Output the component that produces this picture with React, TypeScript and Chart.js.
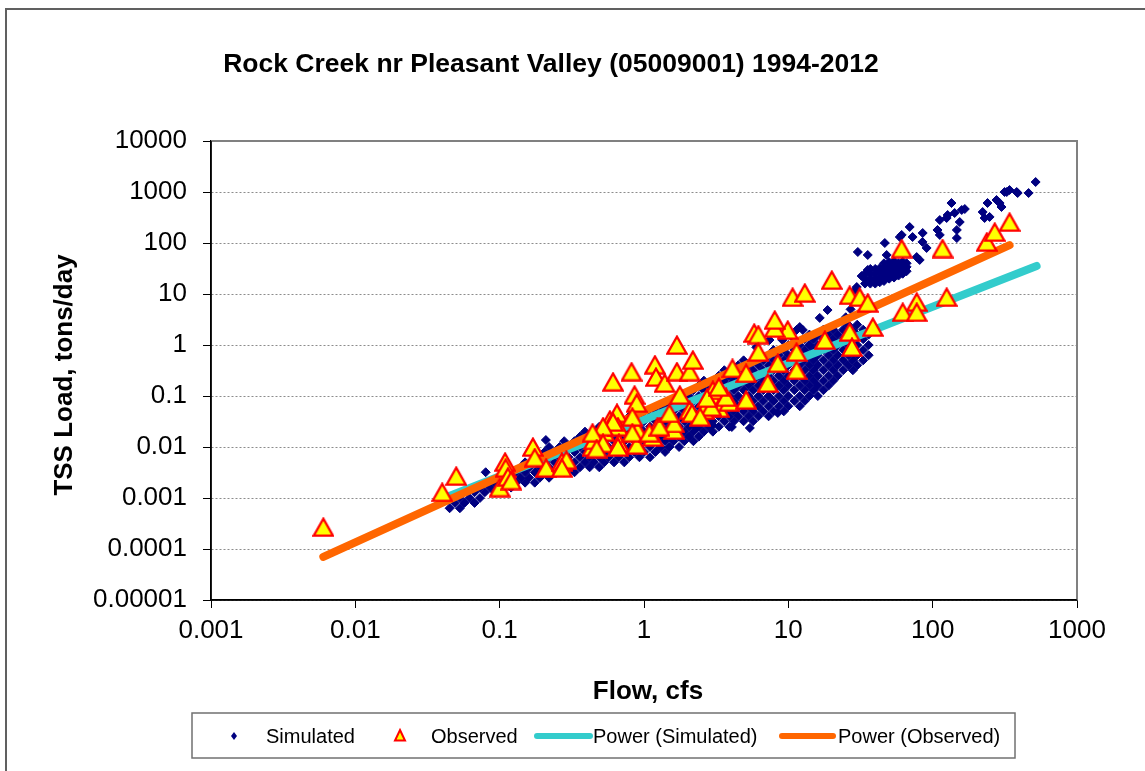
import React, { useEffect, useRef } from "react";
import { Chart, registerables } from "chart.js";

Chart.register(...registerables);

const titleText = "Rock Creek nr Pleasant Valley (05009001) 1994-2012";
const xAxisTitle = "Flow, cfs";
const yAxisTitle = "TSS Load, tons/day";

const xTickValues = [0.001, 0.01, 0.1, 1, 10, 100, 1000];
const xTickLabels = ["0.001", "0.01", "0.1", "1", "10", "100", "1000"];
const yTickValues = [0.00001, 0.0001, 0.001, 0.01, 0.1, 1, 10, 100, 1000, 10000];
const yTickLabels = ["0.00001", "0.0001", "0.001", "0.01", "0.1", "1", "10", "100", "1000", "10000"];

// Simulated daily loads, main band: [load, flows observed at about that load]
const simulatedBand: [number, number[]][] = [
  [0.00063, [0.045, 0.053]],
  [0.0008, [0.049, 0.057, 0.067]],
  [0.001, [0.053, 0.062, 0.073]],
  [0.0013, [0.067, 0.079, 0.093]],
  [0.0016, [0.073, 0.086, 0.1, 0.12]],
  [0.002, [0.093, 0.11, 0.13, 0.15, 0.175]],
  [0.0025, [0.12, 0.14, 0.16, 0.19, 0.22]],
  [0.0032, [0.13, 0.15, 0.175, 0.205, 0.24, 0.28, 0.33]],
  [0.004, [0.14, 0.16, 0.19, 0.22, 0.26, 0.3, 0.36, 0.42, 0.49]],
  [0.005, [0.15, 0.175, 0.205, 0.24, 0.28, 0.33, 0.39, 0.45, 0.53, 0.62, 0.73]],
  [0.0063, [0.19, 0.22, 0.26, 0.3, 0.36, 0.42, 0.49, 0.57, 0.67, 0.79, 0.93, 1.1]],
  [0.008, [0.205, 0.24, 0.28, 0.33, 0.39, 0.45, 0.53, 0.62, 0.73, 0.86, 1.0, 1.2, 1.4]],
  [0.01, [0.22, 0.26, 0.3, 0.36, 0.42, 0.49, 0.57, 0.67, 0.79, 0.93, 1.1, 1.3, 1.5, 1.75]],
  [0.013, [0.28, 0.33, 0.39, 0.45, 0.53, 0.62, 0.73, 0.86, 1.0, 1.2, 1.4, 1.6, 1.9, 2.2]],
  [0.016, [0.36, 0.42, 0.49, 0.57, 0.67, 0.79, 0.93, 1.1, 1.3, 1.5, 1.75, 2.05, 2.4]],
  [0.02, [0.39, 0.45, 0.53, 0.62, 0.73, 0.86, 1.0, 1.2, 1.4, 1.6, 1.9, 2.2, 2.6, 3.0]],
  [0.025, [0.49, 0.57, 0.67, 0.79, 0.93, 1.1, 1.3, 1.5, 1.75, 2.05, 2.4, 2.8, 3.3, 3.9]],
  [0.032, [0.62, 0.73, 0.86, 1.0, 1.2, 1.4, 1.6, 1.9, 2.2, 2.6, 3.0, 3.6, 4.2, 4.9, 5.7]],
  [0.04, [0.79, 0.93, 1.1, 1.3, 1.5, 1.75, 2.05, 2.4, 2.8, 3.3, 3.9, 4.5, 5.3, 6.2, 7.3]],
  [0.05, [1.0, 1.2, 1.4, 1.6, 1.9, 2.2, 2.6, 3.0, 3.6, 4.2, 4.9, 5.7, 6.7, 7.9, 9.3]],
  [0.063, [1.3, 1.5, 1.75, 2.05, 2.4, 2.8, 3.3, 3.9, 4.5, 5.3, 6.2, 7.3, 8.6, 10, 12]],
  [0.08, [1.6, 1.9, 2.2, 2.6, 3.0, 3.6, 4.2, 4.9, 5.7, 6.7, 7.9, 9.3, 11, 13]],
  [0.1, [2.05, 2.4, 2.8, 3.3, 3.9, 4.5, 5.3, 6.2, 7.3, 8.6, 10, 12, 14, 16]],
  [0.13, [2.2, 2.6, 3.0, 3.6, 4.2, 4.9, 5.7, 6.7, 7.9, 9.3, 11, 13, 15, 17.5]],
  [0.16, [2.4, 2.8, 3.3, 3.9, 4.5, 5.3, 6.2, 7.3, 8.6, 10, 12, 14, 16, 19]],
  [0.2, [2.6, 3.0, 3.6, 4.2, 4.9, 5.7, 6.7, 7.9, 9.3, 11, 13, 15, 17.5, 20.5]],
  [0.25, [3.3, 3.9, 4.5, 5.3, 6.2, 7.3, 8.6, 10, 12, 14, 16, 19, 22]],
  [0.32, [3.6, 4.2, 4.9, 5.7, 6.7, 7.9, 9.3, 11, 13, 15, 17.5, 20.5, 24, 28]],
  [0.4, [4.5, 5.3, 6.2, 7.3, 8.6, 10, 12, 14, 16, 19, 22, 26, 30]],
  [0.5, [4.9, 5.7, 6.7, 7.9, 9.3, 11, 13, 15, 17.5, 20.5, 24, 28, 33]],
  [0.63, [6.2, 7.3, 8.6, 10, 12, 14, 16, 19, 22, 26, 30, 36]],
  [0.8, [7.9, 9.3, 11, 13, 15, 17.5, 20.5, 24, 28, 33]],
  [1.0, [10, 12, 14, 16, 19, 22, 26, 30, 36]],
  [1.3, [11, 13, 15, 17.5, 20.5, 24, 28, 33]],
  [1.6, [14, 16, 19, 22, 26, 30, 36]],
  [2.0, [17.5, 20.5, 24, 28, 33]],
  [2.5, [26, 30]],
];

// Simulated high-flow cluster: [flow, loads at that flow]
const simulatedCluster: [number, number[]][] = [
  [34, [16, 20, 25]],
  [37, [16, 20, 25, 31]],
  [40, [16, 20, 25, 31]],
  [43, [17, 21, 26, 32]],
  [46, [18, 22, 27, 33, 40]],
  [50, [20, 24, 29, 35, 42]],
  [54, [21, 26, 31, 37, 44]],
  [58, [23, 28, 33, 40]],
  [62, [25, 30, 36, 43]],
  [66, [28, 34, 40]],
];

// Simulated scattered points
const simulatedScatterFlow = [
  32.2, 35.5, 30.3, 35.5, 46.6, 48, 59.2, 69.3, 72.6, 85.3, 90.8, 81.3, 108, 112, 125, 127, 135, 142, 147, 154,
  159, 167, 147, 222, 229, 240, 277, 291, 300, 315, 341, 382, 388, 462, 517, 61, 85, 77.5, 112, 248, 326,
  0.08, 0.209, 2.32, 2.99, 4.06, 5.41, 8.45, 18.7, 16.5, 12.6, 11.4, 9.1, 12, 7.4, 6.0, 29.8, 29, 31, 33, 27, 25,
];
const simulatedScatterLoad = [
  22.5, 29.6, 66.7, 58.2, 100, 58.2, 131, 206, 131, 157, 79.8, 46.5, 180, 282, 309, 354, 608, 387, 180, 258,
  444, 464, 125, 405, 309, 608, 697, 608, 508, 1000, 1094, 1000, 955, 955, 1570, 144, 105, 53, 144, 324, 1000,
  0.0032, 0.0137, 0.0236, 0.027, 0.0247, 0.0236, 0.0465, 4.85, 3.4, 1.97, 1.97, 1.25, 2.25, 1.25, 0.9, 13.7, 12, 9, 7, 5, 3.5,
];

// Observed samples
const observedFlow = [
  0.006, 0.04, 0.05, 0.1, 0.109, 0.11, 0.114, 0.12, 0.17, 0.175, 0.21, 0.27, 0.29, 0.27, 0.44, 0.45, 0.53,
  0.61, 0.58, 0.65, 0.66, 0.67, 0.82, 0.86, 0.89, 0.9, 0.89, 0.83, 1.15, 1.19, 1.21, 1.39, 1.69, 1.69, 2.07,
  2.18, 1.24, 1.62, 1.62, 2.07, 3.0, 3.3, 3.9, 4.1, 3.0, 2.6, 0.61, 0.52, 0.44, 0.52, 0.47, 0.66, 0.83, 1.09,
  1.28, 1.5, 2.15, 1.77, 2.93, 2.73, 3.7, 3.3, 5.1, 5.8, 5.1, 2.45, 10.7, 13, 20, 26.6, 31.2, 35.5, 38.5, 26.6,
  27.6, 17.9, 11.4, 9.9, 8.05, 8.05, 6.2, 6.2, 8.45, 7.2, 11.4, 61, 117, 237, 269, 341, 62, 77.5, 77.5, 125,
];
const observedLoad = [
  0.00027, 0.0013, 0.0027, 0.0016, 0.0051, 0.0039, 0.0026, 0.0022, 0.01, 0.0062, 0.0039, 0.0051, 0.0056, 0.0039, 0.01, 0.0136, 0.0197,
  0.19, 0.034, 0.046, 0.025, 0.012, 0.3, 0.105, 0.073, 0.0215, 0.011, 0.039, 0.0157, 0.41, 0.236, 0.18, 1.0, 0.3, 0.3,
  0.51, 0.025, 0.0215, 0.029, 0.053, 0.091, 0.058, 0.076, 0.35, 0.13, 0.053, 0.031, 0.025, 0.019, 0.0118, 0.0093, 0.01, 0.019, 0.019,
  0.025, 0.046, 0.046, 0.105, 0.061, 0.091, 0.095, 0.15, 0.084, 1.72, 0.28, 0.039, 8.7, 10.5, 18.8, 9.5, 8.7, 6.7, 2.25, 1.8,
  0.91, 1.25, 0.73, 1.97, 2.15, 3.1, 1.6, 0.73, 0.44, 0.18, 0.32, 78, 78, 105, 164, 258, 4.4, 7.0, 4.4, 8.7,
];

// Power trend lines (end points)
const powerSimulatedFlow = [0.043, 525];
const powerSimulatedLoad = [0.00105, 35.5];
const powerObservedFlow = [0.006, 341];
const powerObservedLoad = [0.00007, 91];

const FONT = "'Liberation Sans', Arial, Helvetica, sans-serif";

function makeTriangleMarker(fill: string, stroke: string): HTMLCanvasElement {
  const c = document.createElement("canvas");
  c.width = 22;
  c.height = 20;
  const g = c.getContext("2d")!;
  g.lineJoin = "miter";
  g.fillStyle = fill;
  g.strokeStyle = stroke;
  g.lineWidth = 2.2;
  g.beginPath();
  g.moveTo(11, 1.6);
  g.lineTo(20.6, 18.6);
  g.lineTo(1.4, 18.6);
  g.closePath();
  g.fill();
  g.stroke();
  return c;
}

const decorPlugin = {
  id: "decor",
  beforeDatasetsDraw(chart: any) {
    const { ctx, chartArea: a } = chart;
    ctx.save();
    ctx.strokeStyle = "#808080";
    ctx.lineWidth = 2;
    ctx.beginPath();
    ctx.moveTo(a.left, a.top);
    ctx.lineTo(a.right, a.top);
    ctx.lineTo(a.right, a.bottom);
    ctx.stroke();
    ctx.strokeStyle = "#000000";
    ctx.lineWidth = 1.5;
    ctx.beginPath();
    ctx.moveTo(a.left, a.top);
    ctx.lineTo(a.left, a.bottom);
    ctx.lineTo(a.right, a.bottom);
    ctx.stroke();
    ctx.restore();
  },
  afterDraw(chart: any) {
    const { ctx } = chart;
    const ds = chart.data.datasets;
    ctx.save();
    // outer frame
    ctx.strokeStyle = "#606060";
    ctx.lineWidth = 2;
    ctx.beginPath();
    ctx.moveTo(6, 771);
    ctx.lineTo(6, 9);
    ctx.lineTo(1145, 9);
    ctx.stroke();

    ctx.fillStyle = "#000";
    ctx.textBaseline = "alphabetic";
    ctx.textAlign = "center";
    ctx.font = `bold 26.5px ${FONT}`;
    ctx.fillText(titleText, 551, 72);
    ctx.font = `bold 26px ${FONT}`;
    ctx.fillText(xAxisTitle, 648, 699);
    ctx.save();
    ctx.translate(72, 375);
    ctx.rotate(-Math.PI / 2);
    ctx.fillText(yAxisTitle, 0, 0);
    ctx.restore();

    // legend
    ctx.strokeStyle = "#707070";
    ctx.lineWidth = 1.5;
    ctx.strokeRect(192, 713, 823, 45);
    const cy = 736;
    ctx.font = `20px ${FONT}`;
    ctx.textAlign = "left";
    // diamond
    ctx.fillStyle = ds[0].pointBackgroundColor;
    ctx.beginPath();
    ctx.moveTo(234, cy - 4);
    ctx.lineTo(237, cy);
    ctx.lineTo(234, cy + 4);
    ctx.lineTo(231, cy);
    ctx.closePath();
    ctx.fill();
    ctx.fillStyle = "#000";
    ctx.fillText(ds[0].label, 266, 743);
    // triangle
    ctx.fillStyle = "#FFFF00";
    ctx.strokeStyle = "#FF0000";
    ctx.lineWidth = 2;
    ctx.beginPath();
    ctx.moveTo(400, cy - 6);
    ctx.lineTo(405, cy + 4.5);
    ctx.lineTo(395, cy + 4.5);
    ctx.closePath();
    ctx.fill();
    ctx.stroke();
    ctx.fillStyle = "#000";
    ctx.fillText(ds[1].label, 431, 743);
    // lines
    ctx.lineCap = "round";
    ctx.lineWidth = 6;
    ctx.strokeStyle = ds[2].borderColor;
    ctx.beginPath();
    ctx.moveTo(537, cy);
    ctx.lineTo(590, cy);
    ctx.stroke();
    ctx.fillText(ds[2].label, 593, 743);
    ctx.strokeStyle = ds[3].borderColor;
    ctx.beginPath();
    ctx.moveTo(782, cy);
    ctx.lineTo(833, cy);
    ctx.stroke();
    ctx.fillText(ds[3].label, 838, 743);
    ctx.restore();
  },
};

export default function App() {
  const canvasRef = useRef<HTMLCanvasElement | null>(null);

  useEffect(() => {
    const canvas = canvasRef.current;
    if (!canvas) return;

    const simPoints = simulatedBand
      .flatMap(([load, flows]) => flows.map((f) => ({ x: f, y: load })))
      .concat(simulatedCluster.flatMap(([flow, loads]) => loads.map((l) => ({ x: flow, y: l }))))
      .concat(simulatedScatterFlow.map((f, i) => ({ x: f, y: simulatedScatterLoad[i] })));
    const obsPoints = observedFlow.map((f, i) => ({ x: f, y: observedLoad[i] }));
    const powSim = powerSimulatedFlow.map((f, i) => ({ x: f, y: powerSimulatedLoad[i] }));
    const powObs = powerObservedFlow.map((f, i) => ({ x: f, y: powerObservedLoad[i] }));

    const triMarker = makeTriangleMarker("#FFFF00", "#FF0000");

    const chart = new Chart(canvas, {
      type: "scatter",
      data: {
        datasets: [
          {
            label: "Simulated",
            data: simPoints,
            pointStyle: "rectRot",
            pointRadius: 4.5,
            pointBorderWidth: 1,
            pointBackgroundColor: "#000080",
            pointBorderColor: "#000080",
            backgroundColor: "#000080",
            borderColor: "#000080",
            showLine: false,
            order: 3,
          },
          {
            label: "Observed",
            data: obsPoints,
            pointStyle: triMarker,
            pointRadius: 10,
            pointBorderWidth: 0,
            pointBackgroundColor: "#FFFF00",
            pointBorderColor: "#FF0000",
            backgroundColor: "#FFFF00",
            borderColor: "#FF0000",
            showLine: false,
            order: 0,
          },
          {
            label: "Power (Simulated)",
            data: powSim,
            showLine: true,
            borderColor: "#33CCCC",
            backgroundColor: "#33CCCC",
            borderWidth: 8,
            borderCapStyle: "round",
            pointRadius: 0,
            fill: false,
            order: 2,
          },
          {
            label: "Power (Observed)",
            data: powObs,
            showLine: true,
            borderColor: "#FF6600",
            backgroundColor: "#FF6600",
            borderWidth: 8,
            borderCapStyle: "round",
            pointRadius: 0,
            fill: false,
            order: 1,
          },
        ],
      } as any,
      options: {
        responsive: false,
        maintainAspectRatio: false,
        devicePixelRatio: 1,
        animation: false,
        events: [],
        layout: { padding: { left: 0, top: 141, right: 68, bottom: 0 } },
        plugins: {
          legend: { display: false },
          title: { display: false },
          tooltip: { enabled: false },
        },
        scales: {
          x: {
            type: "logarithmic",
            position: "bottom",
            min: 0.001,
            max: 1000,
            afterBuildTicks: (s: any) => {
              s.ticks = xTickValues.map((v) => ({ value: v }));
            },
            afterFit: (s: any) => {
              s.height = 171;
            },
            ticks: {
              autoSkip: false,
              maxRotation: 0,
              minRotation: 0,
              padding: 7,
              color: "#000",
              font: { family: FONT, size: 26 },
              callback: (_v: any, i: number) => xTickLabels[i],
            },
            grid: {
              drawOnChartArea: false,
              drawTicks: true,
              tickLength: 8,
              tickColor: "#000",
              color: "#000",
            },
            border: { display: true, color: "#000", width: 1.5 },
          },
          y: {
            type: "logarithmic",
            position: "left",
            min: 0.00001,
            max: 10000,
            afterBuildTicks: (s: any) => {
              s.ticks = yTickValues.map((v) => ({ value: v }));
            },
            afterFit: (s: any) => {
              s.width = 211;
            },
            ticks: {
              autoSkip: false,
              padding: 16,
              color: "#000",
              font: { family: FONT, size: 26 },
              callback: (_v: any, i: number) => yTickLabels[i],
            },
            grid: {
              drawOnChartArea: true,
              drawTicks: true,
              tickLength: 8,
              tickColor: "#000",
              color: "#8c8c8c",
              lineWidth: 1,
            },
            border: { display: true, color: "#000", width: 1.5, dash: [2, 2] },
          },
        },
      } as any,
      plugins: [decorPlugin],
    });

    return () => chart.destroy();
  }, []);

  return (
    <div style={{ position: "absolute", left: 0, top: 0, width: 1145, height: 771, background: "#fff" }}>
      <canvas ref={canvasRef} width={1145} height={771} style={{ display: "block", width: 1145, height: 771 }} />
    </div>
  );
}
